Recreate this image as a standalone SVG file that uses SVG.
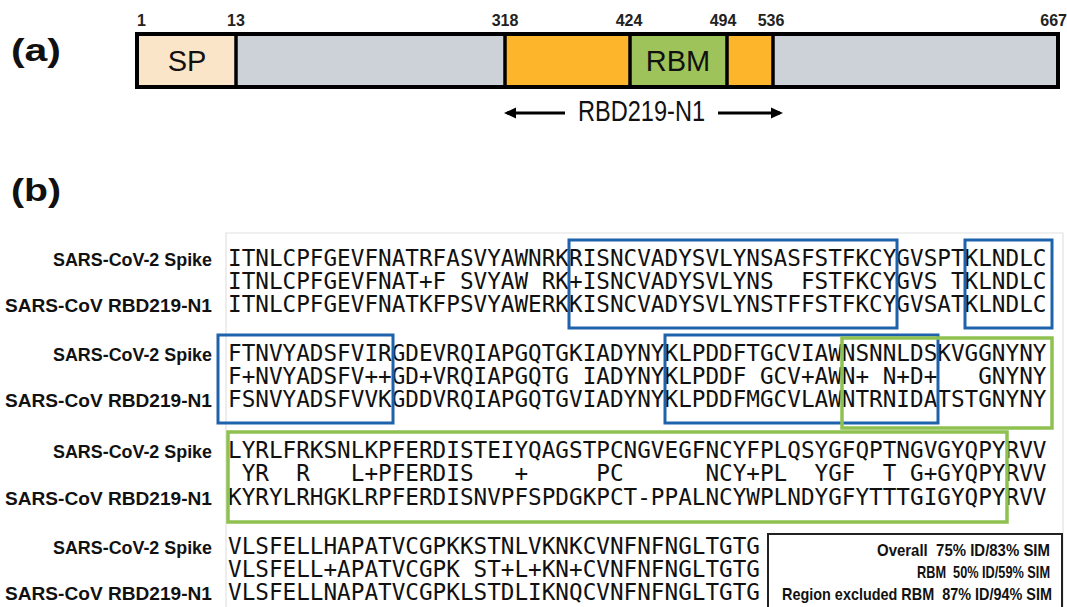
<svg xmlns="http://www.w3.org/2000/svg" width="1067" height="607" viewBox="0 0 1067 607">
<style>
.pl{font-family:"Liberation Sans",Arial,sans-serif;font-weight:bold;font-size:31px;fill:#111}
.num{font-family:"Liberation Sans",Arial,sans-serif;font-weight:bold;font-size:16px;fill:#222}
.seg{stroke:#000;stroke-width:3.5}
.big{font-family:"Liberation Sans",Arial,sans-serif;font-size:29px;fill:#111}
.lab{font-family:"Liberation Sans",Arial,sans-serif;font-weight:bold;font-size:18.5px;fill:#111}
.seq{font-family:"DejaVu Sans Mono","Liberation Mono",monospace;font-size:22.67px;fill:#111;white-space:pre}
.blue{fill:none;stroke:#1E62AC;stroke-width:3}
.green{fill:none;stroke:#8FC150;stroke-width:3.5}
.stat{font-family:"Liberation Sans",Arial,sans-serif;font-weight:bold;font-size:17px;fill:#111;white-space:pre}
.arr{stroke:#000;stroke-width:3.2;fill:none}
</style>
<defs>
<marker id="ah" markerWidth="12" markerHeight="12" refX="9" refY="6" orient="auto" markerUnits="userSpaceOnUse">
<path d="M0,0.5 L12,6 L0,11.5 Z" fill="#000"/>
</marker>
</defs>

<g id="panel-a">
<text class="pl" x="11" y="61" textLength="50" lengthAdjust="spacingAndGlyphs">(a)</text>
<g id="bar">
<rect x="137" y="34" width="99" height="53" fill="#FBE5C8"/>
<rect x="236" y="34" width="269" height="53" fill="#CCD2D8"/>
<rect x="505" y="34" width="125" height="53" fill="#FDB52B"/>
<rect x="630" y="34" width="97" height="53" fill="#9DC35A"/>
<rect x="727" y="34" width="46" height="53" fill="#FDB52B"/>
<rect x="773" y="34" width="285" height="53" fill="#CCD2D8"/>
<line class="seg" x1="236" y1="34" x2="236" y2="87"/>
<line class="seg" x1="505" y1="34" x2="505" y2="87"/>
<line class="seg" x1="630" y1="34" x2="630" y2="87"/>
<line class="seg" x1="727" y1="34" x2="727" y2="87"/>
<line class="seg" x1="773" y1="34" x2="773" y2="87"/>
<rect x="137" y="34" width="921" height="53" fill="none" stroke="#000" stroke-width="4"/>
<text class="big" x="187" y="71" text-anchor="middle">SP</text>
<text class="big" x="678" y="71" text-anchor="middle">RBM</text>
</g>
<g id="positions">
<text class="num" x="137" y="26">1</text>
<text class="num" x="236" y="26" text-anchor="middle">13</text>
<text class="num" x="505" y="26" text-anchor="middle">318</text>
<text class="num" x="629" y="26" text-anchor="middle">424</text>
<text class="num" x="723" y="26" text-anchor="middle">494</text>
<text class="num" x="771" y="26" text-anchor="middle">536</text>
<text class="num" x="1067" y="26" text-anchor="end">667</text>
</g>
<g id="rbd-range">
<line class="arr" x1="565" y1="113" x2="507" y2="113" marker-end="url(#ah)"/>
<line class="arr" x1="718" y1="113" x2="780" y2="113" marker-end="url(#ah)"/>
<text class="big" x="578" y="121" font-size="22" textLength="127" lengthAdjust="spacingAndGlyphs">RBD219-N1</text>
</g>
</g>

<g id="panel-b">
<text class="pl" x="11" y="201" textLength="50" lengthAdjust="spacingAndGlyphs">(b)</text>
<path d="M226,607 L226,233 L1063,233 L1063,607" fill="none" stroke="#e2e2e2" stroke-width="1.2"/>

<g id="labels">
<text class="lab" x="53" y="266" textLength="159" lengthAdjust="spacingAndGlyphs">SARS-CoV-2 Spike</text>
<text class="lab" x="5" y="312" textLength="207" lengthAdjust="spacingAndGlyphs">SARS-CoV RBD219-N1</text>
<text class="lab" x="53" y="361" textLength="159" lengthAdjust="spacingAndGlyphs">SARS-CoV-2 Spike</text>
<text class="lab" x="5" y="407" textLength="207" lengthAdjust="spacingAndGlyphs">SARS-CoV RBD219-N1</text>
<text class="lab" x="53" y="458" textLength="159" lengthAdjust="spacingAndGlyphs">SARS-CoV-2 Spike</text>
<text class="lab" x="5" y="505" textLength="207" lengthAdjust="spacingAndGlyphs">SARS-CoV RBD219-N1</text>
<text class="lab" x="53" y="554" textLength="159" lengthAdjust="spacingAndGlyphs">SARS-CoV-2 Spike</text>
<text class="lab" x="5" y="600" textLength="207" lengthAdjust="spacingAndGlyphs">SARS-CoV RBD219-N1</text>
</g>

<g id="alignment">
<text class="seq" xml:space="preserve" x="228" y="266">ITNLCPFGEVFNATRFASVYAWNRKRISNCVADYSVLYNSASFSTFKCYGVSPTKLNDLC</text>
<text class="seq" xml:space="preserve" x="228" y="289">ITNLCPFGEVFNAT+F SVYAW RK+ISNCVADYSVLYNS  FSTFKCYGVS TKLNDLC</text>
<text class="seq" xml:space="preserve" x="228" y="312">ITNLCPFGEVFNATKFPSVYAWERKKISNCVADYSVLYNSTFFSTFKCYGVSATKLNDLC</text>

<text class="seq" xml:space="preserve" x="228" y="361">FTNVYADSFVIRGDEVRQIAPGQTGKIADYNYKLPDDFTGCVIAWNSNNLDSKVGGNYNY</text>
<text class="seq" xml:space="preserve" x="228" y="384">F+NVYADSFV++GD+VRQIAPGQTG IADYNYKLPDDF GCV+AWN+ N+D+   GNYNY</text>
<text class="seq" xml:space="preserve" x="228" y="407">FSNVYADSFVVKGDDVRQIAPGQTGVIADYNYKLPDDFMGCVLAWNTRNIDATSTGNYNY</text>

<text class="seq" xml:space="preserve" x="228" y="458">LYRLFRKSNLKPFERDISTEIYQAGSTPCNGVEGFNCYFPLQSYGFQPTNGVGYQPYRVV</text>
<text class="seq" xml:space="preserve" x="228" y="481"> YR  R   L+PFERDIS   +     PC      NCY+PL  YGF  T G+GYQPYRVV</text>
<text class="seq" xml:space="preserve" x="228" y="505">KYRYLRHGKLRPFERDISNVPFSPDGKPCT-PPALNCYWPLNDYGFYTTTGIGYQPYRVV</text>

<text class="seq" xml:space="preserve" x="228" y="554">VLSFELLHAPATVCGPKKSTNLVKNKCVNFNFNGLTGTG</text>
<text class="seq" xml:space="preserve" x="228" y="577">VLSFELL+APATVCGPK ST+L+KN+CVNFNFNGLTGTG</text>
<text class="seq" xml:space="preserve" x="228" y="600">VLSFELLNAPATVCGPKLSTDLIKNQCVNFNFNGLTGTG</text>
</g>

<g id="regions">
<rect class="blue" x="569" y="240" width="328" height="88"/>
<rect class="blue" x="965" y="240" width="87" height="88"/>
<rect class="blue" x="218" y="335" width="175" height="88"/>
<rect class="blue" x="665" y="335" width="273" height="88"/>
<rect class="green" x="842" y="338" width="210" height="90"/>
<rect class="green" x="228" y="432" width="779" height="90"/>
</g>

<g id="stats">
<rect x="768" y="534" width="294" height="80" fill="#fff" stroke="#222" stroke-width="2"/>
<text class="stat" xml:space="preserve" x="877" y="556" textLength="173" lengthAdjust="spacingAndGlyphs">Overall  75% ID/83% SIM</text>
<text class="stat" xml:space="preserve" x="917" y="578" textLength="133" lengthAdjust="spacingAndGlyphs">RBM  50% ID/59% SIM</text>
<text class="stat" xml:space="preserve" x="782" y="600" textLength="270" lengthAdjust="spacingAndGlyphs">Region excluded RBM  87% ID/94% SIM</text>
</g>
</g>
</svg>
